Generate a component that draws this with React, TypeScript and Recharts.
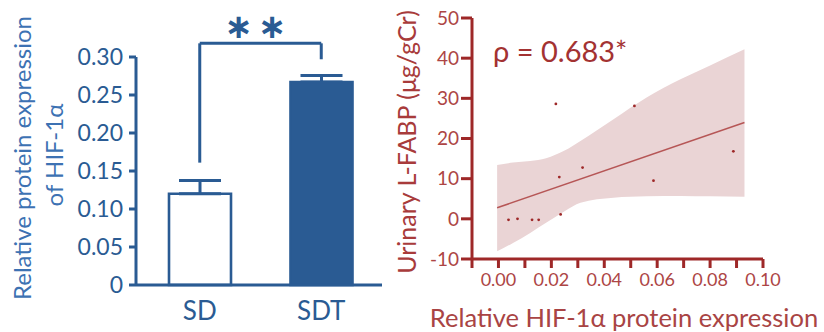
import {
  Area,
  Bar,
  BarChart,
  Cell,
  ComposedChart,
  ErrorBar,
  Line,
  ReferenceLine,
  Scatter,
  XAxis,
  YAxis,
} from 'recharts';

// left panel: HIF-1a expression by group
const groups = ['SD', 'SDT'];
const groupMeans = [0.12, 0.267];
const groupErrs = [0.0175, 0.0085];
const barTicks = [0, 0.05, 0.1, 0.15, 0.2, 0.25, 0.3];

// right panel: correlation scatter
const pointX = [0.0038, 0.0072, 0.0127, 0.0152, 0.0217, 0.023, 0.0235, 0.0318, 0.0514, 0.0586, 0.0888];
const pointY = [-0.25, 0, -0.25, -0.25, 28.6, 10.4, 1.1, 12.75, 28.1, 9.5, 16.8];
const fitX = [-0.0005, 0.093];
const fitY = [2.75, 24.0];
const bandX = [-0.0005, 0.0055, 0.012, 0.018, 0.025, 0.031, 0.0435, 0.056, 0.069, 0.08, 0.093];
const bandHigh = [13.4, 14.0, 14.4, 15.1, 17.0, 19.4, 24.8, 30.2, 34.8, 38.2, 42.2];
const bandLow = [-8.1, -6.0, -3.5, -1.0, 1.9, 4.0, 5.25, 5.6, 5.7, 5.6, 5.5];
const corrXTicks = [-0.01, 0, 0.01, 0.02, 0.03, 0.04, 0.05, 0.06, 0.07, 0.08, 0.09, 0.1];
const corrYTicks = [-10, 0, 10, 20, 30, 40, 50];

const BLUE = '#2a5b93';
const BLUE_LIGHT = '#3d72b3';
const RED = '#9e2828';
const RED_TEXT = '#ad4545';

const barData = groups.map((g, i) => ({ name: g, value: groupMeans[i], err: [0, groupErrs[i]] }));
const bandData = bandX.map((x, i) => ({ x, range: [bandLow[i], bandHigh[i]] }));
const fitData = fitX.map((x, i) => ({ x, y: fitY[i] }));
const points = pointX.map((x, i) => ({ x, y: pointY[i] }));

const Dot = (props: any) => <circle cx={props.cx} cy={props.cy} r={1.4} fill={RED} />;

export default function App() {
  return (
    <div style={{ position: 'absolute', left: 0, top: 0, width: 824, height: 332, fontFamily: 'Lato', background: '#fff' }}>
      <div style={{ position: 'absolute', left: 0, top: 0 }}>
        <BarChart width={400} height={332} data={barData} margin={{ top: 57, right: 18, bottom: 0, left: 0 }}>
          <XAxis
            dataKey="name"
            padding={{ left: 3, right: 0 }}
            axisLine={{ stroke: BLUE, strokeWidth: 3 }}
            tickLine={false}
            tickSize={0}
            tickMargin={17}
            height={47}
            tick={{ fill: BLUE, fontSize: 26 }}
          />
          <YAxis
            width={136}
            domain={[0, 0.3]}
            ticks={barTicks}
            tickFormatter={(v: number) => (v === 0 ? '0' : v.toFixed(2))}
            axisLine={{ stroke: BLUE, strokeWidth: 3 }}
            tickLine={{ stroke: BLUE, strokeWidth: 3 }}
            tickSize={7}
            tickMargin={6}
            tick={{ fill: BLUE, fontSize: 23 }}
          />
          <Bar dataKey="value" barSize={62} stroke={BLUE} strokeWidth={2.6} isAnimationActive={false}>
            {barData.map((d, i) => (
              <Cell key={d.name} fill={i === 0 ? '#ffffff' : BLUE} />
            ))}
            <ErrorBar dataKey="err" width={21} stroke={BLUE} strokeWidth={3} />
          </Bar>
          <ReferenceLine
            ifOverflow="visible"
            segment={[{ x: 'SD', y: 0.161 }, { x: 'SD', y: 0.318 }]}
            stroke={BLUE}
            strokeWidth={3}
          />
          <ReferenceLine
            ifOverflow="visible"
            segment={[{ x: 'SD', y: 0.318 }, { x: 'SDT', y: 0.318 }]}
            stroke={BLUE}
            strokeWidth={3}
          />
          <ReferenceLine
            ifOverflow="visible"
            segment={[{ x: 'SDT', y: 0.297 }, { x: 'SDT', y: 0.318 }]}
            stroke={BLUE}
            strokeWidth={3}
          />
        </BarChart>
      </div>

      <div style={{ position: 'absolute', left: 400, top: 0 }}>
        <ComposedChart width={424} height={332} data={bandData} margin={{ top: 18, right: 61, bottom: 0, left: 0 }}>
          <XAxis
            type="number"
            dataKey="x"
            domain={[-0.01, 0.1]}
            ticks={corrXTicks}
            allowDataOverflow
            interval={0}
            tickFormatter={(v: number) => (Math.round(v * 100) % 2 === 0 ? v.toFixed(2) : '')}
            axisLine={{ stroke: RED, strokeWidth: 3 }}
            tickLine={{ stroke: RED, strokeWidth: 3 }}
            tickSize={9}
            tickMargin={5}
            height={73}
            tick={{ fill: RED_TEXT, fontSize: 18 }}
          />
          <YAxis
            type="number"
            dataKey="y"
            width={72}
            domain={[-10, 50]}
            ticks={corrYTicks}
            allowDataOverflow
            interval={0}
            axisLine={{ stroke: RED, strokeWidth: 3 }}
            tickLine={{ stroke: RED, strokeWidth: 3 }}
            tickSize={11}
            tickMargin={2}
            tick={{ fill: RED_TEXT, fontSize: 19 }}
          />
          <Area
            dataKey="range"
            type="monotone"
            fill="#ead4d5"
            fillOpacity={1}
            stroke="none"
            isAnimationActive={false}
          />
          <Line
            data={fitData}
            dataKey="y"
            type="linear"
            stroke="#b65656"
            strokeWidth={1.5}
            dot={false}
            isAnimationActive={false}
          />
          <Scatter data={points} dataKey="y" shape={Dot} isAnimationActive={false} />
        </ComposedChart>
      </div>

      <svg width={824} height={332} style={{ position: 'absolute', left: 0, top: 0, pointerEvents: 'none' }}>
        <text x={21} y={158} transform="rotate(-90 21 158)" textAnchor="middle" dominantBaseline="central" fontSize={24} fill={BLUE_LIGHT}>
          Relative protein expression
        </text>
        <text x={53} y={155} transform="rotate(-90 53 155)" textAnchor="middle" dominantBaseline="central" fontSize={24} fill={BLUE_LIGHT}>
          of HIF-1α
        </text>
        <text x={258} y={26} textAnchor="middle" dominantBaseline="central" fontSize={34} fontWeight="bold" fontFamily="DejaVu Sans" fill={BLUE} letterSpacing={5}>
          ∗∗
        </text>
        <text x={493} y={50} dominantBaseline="central" fontSize={29} fill="#a33232">
          ρ = 0.683*
        </text>
        <text x={406} y={142} transform="rotate(-90 406 142)" textAnchor="middle" dominantBaseline="central" fontSize={25} fill="#a83b3b">
          Urinary L-FABP (μg/gCr)
        </text>
        <text x={624} y={317} textAnchor="middle" dominantBaseline="central" fontSize={25.5} fill="#a94444">
          Relative HIF-1α protein expression
        </text>
      </svg>
    </div>
  );
}
